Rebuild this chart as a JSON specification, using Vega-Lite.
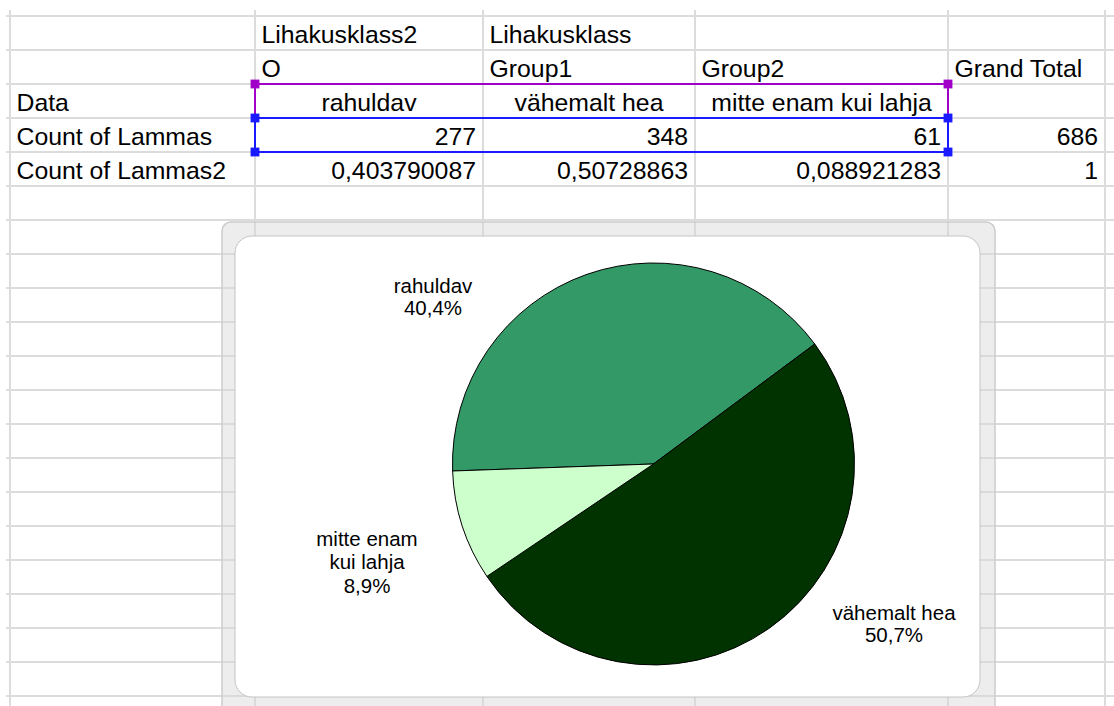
{
  "$schema": "https://vega.github.io/schema/vega-lite/v6.json",
  "width": 1114,
  "height": 706,
  "padding": 0,
  "autosize": "none",
  "background": "white",
  "config": {
    "view": {"stroke": null},
    "axis": {"disable": true},
    "legend": {"disable": true},
    "text": {"font": "Liberation Sans"}
  },
  "datasets": {
    "cells": [
      {"col": 1, "row": 1, "text": "Lihakusklass2", "kind": "text"},
      {"col": 2, "row": 1, "text": "Lihakusklass", "kind": "text"},
      {"col": 1, "row": 2, "text": "O", "kind": "text"},
      {"col": 2, "row": 2, "text": "Group1", "kind": "text"},
      {"col": 3, "row": 2, "text": "Group2", "kind": "text"},
      {"col": 4, "row": 2, "text": "Grand Total", "kind": "text"},
      {"col": 0, "row": 3, "text": "Data", "kind": "text"},
      {"col": 1, "row": 3, "text": "rahuldav", "kind": "cat"},
      {"col": 2, "row": 3, "text": "vähemalt hea", "kind": "cat"},
      {"col": 3, "row": 3, "text": "mitte enam kui lahja", "kind": "cat"},
      {"col": 0, "row": 4, "text": "Count of Lammas", "kind": "text"},
      {"col": 1, "row": 4, "text": "277", "kind": "num"},
      {"col": 2, "row": 4, "text": "348", "kind": "num"},
      {"col": 3, "row": 4, "text": "61", "kind": "num"},
      {"col": 4, "row": 4, "text": "686", "kind": "num"},
      {"col": 0, "row": 5, "text": "Count of Lammas2", "kind": "text"},
      {"col": 1, "row": 5, "text": "0,403790087", "kind": "num"},
      {"col": 2, "row": 5, "text": "0,50728863", "kind": "num"},
      {"col": 3, "row": 5, "text": "0,088921283", "kind": "num"},
      {"col": 4, "row": 5, "text": "1", "kind": "num"}
    ],
    "colBounds": [{"b": 0}, {"b": 1}, {"b": 2}, {"b": 3}, {"b": 4}, {"b": 5}],
    "rowBounds": [
      {"r": 0}, {"r": 1}, {"r": 2}, {"r": 3}, {"r": 4}, {"r": 5}, {"r": 6},
      {"r": 7}, {"r": 8}, {"r": 9}, {"r": 10}, {"r": 11}, {"r": 12}, {"r": 13},
      {"r": 14}, {"r": 15}, {"r": 16}, {"r": 17}, {"r": 18}, {"r": 19}, {"r": 20}
    ],
    "selections": [
      {"range": "B3:D3", "c1": 1, "c2": 4, "r1": 2, "r2": 3},
      {"range": "B4:D4", "c1": 1, "c2": 4, "r1": 3, "r2": 4}
    ],
    "pie": [
      {"category": "rahuldav", "col": 1, "count": 277, "label": "rahuldav\n40,4%"},
      {"category": "vähemalt hea", "col": 2, "count": 348, "label": "vähemalt hea\n50,7%"},
      {"category": "mitte enam kui lahja", "col": 3, "count": 61, "label": "mitte enam\nkui lahja\n8,9%"}
    ]
  },
  "layer": [
    {
      "data": {"name": "colBounds"},
      "mark": {"type": "rule", "color": "#dcdcdc", "strokeWidth": 2},
      "encoding": {
        "x": {"field": "b", "type": "quantitative", "axis": null,
              "scale": {"domain": [0, 1, 2, 3, 4, 5], "range": [10, 255, 483, 695, 948, 1105], "nice": false, "zero": false}},
        "y": {"datum": -0.18, "axis": null,
              "scale": {"domain": [0, 20], "range": [16, 696], "nice": false, "zero": false}},
        "y2": {"datum": 20.6}
      }
    },
    {
      "data": {"name": "rowBounds"},
      "mark": {"type": "rule", "color": "#dcdcdc", "strokeWidth": 2},
      "encoding": {
        "y": {"field": "r", "type": "quantitative", "axis": null},
        "x": {"datum": -0.016, "axis": null},
        "x2": {"datum": 5.1}
      }
    },
    {
      "data": {"name": "cells"},
      "transform": [{"filter": "datum.kind === 'text'"}],
      "mark": {"type": "text", "align": "left", "baseline": "alphabetic", "dx": 6.5, "dy": -7, "fontSize": 24.8, "font": "Liberation Sans", "color": "#000000"},
      "encoding": {
        "x": {"field": "col", "type": "quantitative", "axis": null},
        "y": {"field": "row", "type": "quantitative", "axis": null},
        "text": {"field": "text", "type": "nominal"}
      }
    },
    {
      "data": {"name": "cells"},
      "transform": [{"filter": "datum.kind === 'cat'"}, {"calculate": "datum.col + 0.5", "as": "xm"}],
      "mark": {"type": "text", "align": "center", "baseline": "alphabetic", "dy": -7, "fontSize": 24.8, "font": "Liberation Sans", "color": "#000000"},
      "encoding": {
        "x": {"field": "xm", "type": "quantitative", "axis": null},
        "y": {"field": "row", "type": "quantitative", "axis": null},
        "text": {"field": "text", "type": "nominal"}
      }
    },
    {
      "data": {"name": "cells"},
      "transform": [{"filter": "datum.kind === 'num'"}, {"calculate": "datum.col + 1", "as": "xr"}],
      "mark": {"type": "text", "align": "right", "baseline": "alphabetic", "dx": -7, "dy": -7, "fontSize": 24.8, "font": "Liberation Sans", "color": "#000000"},
      "encoding": {
        "x": {"field": "xr", "type": "quantitative", "axis": null},
        "y": {"field": "row", "type": "quantitative", "axis": null},
        "text": {"field": "text", "type": "nominal"}
      }
    },
    {
      "data": {"name": "selections"},
      "transform": [{"filter": "datum.range === 'B3:D3'"}],
      "mark": {"type": "rect", "fill": "white", "fillOpacity": 0, "stroke": "#a000c8", "strokeWidth": 2},
      "encoding": {
        "x": {"field": "c1", "type": "quantitative", "axis": null},
        "x2": {"field": "c2"},
        "y": {"field": "r1", "type": "quantitative", "axis": null},
        "y2": {"field": "r2"}
      }
    },
    {
      "data": {"name": "selections"},
      "transform": [{"filter": "datum.range === 'B4:D4'"}],
      "mark": {"type": "rect", "fill": "white", "fillOpacity": 0, "stroke": "#1a1aff", "strokeWidth": 2},
      "encoding": {
        "x": {"field": "c1", "type": "quantitative", "axis": null},
        "x2": {"field": "c2"},
        "y": {"field": "r1", "type": "quantitative", "axis": null},
        "y2": {"field": "r2"}
      }
    },
    {
      "data": {"name": "selections"},
      "transform": [{"filter": "datum.range === 'B3:D3'"}, {"fold": ["c1", "c2"], "as": ["corner", "cx"]}],
      "mark": {"type": "point", "shape": "square", "filled": true, "size": 78, "color": "#a000c8", "opacity": 1},
      "encoding": {
        "x": {"field": "cx", "type": "quantitative", "axis": null},
        "y": {"field": "r1", "type": "quantitative", "axis": null}
      }
    },
    {
      "data": {"name": "selections"},
      "transform": [{"filter": "datum.range === 'B4:D4'"}, {"fold": ["c1", "c2"], "as": ["corner", "cx"]}, {"fold": ["r1", "r2"], "as": ["edge", "ry"]}],
      "mark": {"type": "point", "shape": "square", "filled": true, "size": 78, "color": "#1a1aff", "opacity": 1},
      "encoding": {
        "x": {"field": "cx", "type": "quantitative", "axis": null},
        "y": {"field": "ry", "type": "quantitative", "axis": null}
      }
    },
    {
      "data": {"values": [{"object": "Chart 1"}]},
      "mark": {"type": "rect", "fill": "#d6d6d6", "fillOpacity": 0.45, "stroke": "#cccccc", "strokeWidth": 1.5, "cornerRadius": 9},
      "encoding": {
        "x": {"datum": 0.8653, "axis": null},
        "x2": {"datum": 4.2994},
        "y": {"datum": 6.059, "axis": null},
        "y2": {"datum": 20.56}
      }
    },
    {
      "data": {"values": [{"object": "Chart 1"}]},
      "mark": {"type": "rect", "fill": "white", "stroke": "#c4c4c4", "strokeWidth": 1, "cornerRadius": 17},
      "encoding": {
        "x": {"datum": 0.9184, "axis": null},
        "x2": {"datum": 4.2038},
        "y": {"datum": 6.471, "axis": null},
        "y2": {"datum": 20.03}
      }
    },
    {
      "data": {"name": "pie"},
      "mark": {"type": "arc", "outerRadius": 201, "stroke": "#000000", "strokeWidth": 1},
      "encoding": {
        "theta": {"field": "count", "type": "quantitative", "stack": true, "scale": {"range": [4.6775, 10.9607]}},
        "order": {"field": "col", "type": "quantitative", "sort": "ascending"},
        "color": {"field": "category", "type": "nominal", "legend": null,
                  "scale": {"domain": ["rahuldav", "vähemalt hea", "mitte enam kui lahja"], "range": ["#339966", "#003300", "#ccffcc"]}},
        "x": {"datum": 2.8042, "axis": null},
        "y": {"datum": 13.176, "axis": null}
      }
    },
    {
      "data": {"name": "pie"},
      "transform": [{"filter": "datum.category === 'rahuldav'"}],
      "mark": {"type": "text", "align": "center", "baseline": "alphabetic", "lineBreak": "\n", "lineHeight": 22, "fontSize": 20.5, "font": "Liberation Sans", "color": "#000000"},
      "encoding": {
        "x": {"datum": 1.7807, "axis": null},
        "y": {"datum": 8.147, "axis": null},
        "text": {"field": "label", "type": "nominal"}
      }
    },
    {
      "data": {"name": "pie"},
      "transform": [{"filter": "datum.category === 'vähemalt hea'"}],
      "mark": {"type": "text", "align": "center", "baseline": "alphabetic", "lineBreak": "\n", "lineHeight": 22, "fontSize": 20.5, "font": "Liberation Sans", "color": "#000000"},
      "encoding": {
        "x": {"datum": 3.7866, "axis": null},
        "y": {"datum": 17.765, "axis": null},
        "text": {"field": "label", "type": "nominal"}
      }
    },
    {
      "data": {"name": "pie"},
      "transform": [{"filter": "datum.category === 'mitte enam kui lahja'"}],
      "mark": {"type": "text", "align": "center", "baseline": "alphabetic", "lineBreak": "\n", "lineHeight": 23.5, "fontSize": 20.5, "font": "Liberation Sans", "color": "#000000"},
      "encoding": {
        "x": {"datum": 1.4912, "axis": null},
        "y": {"datum": 15.588, "axis": null},
        "text": {"field": "label", "type": "nominal"}
      }
    }
  ]
}
